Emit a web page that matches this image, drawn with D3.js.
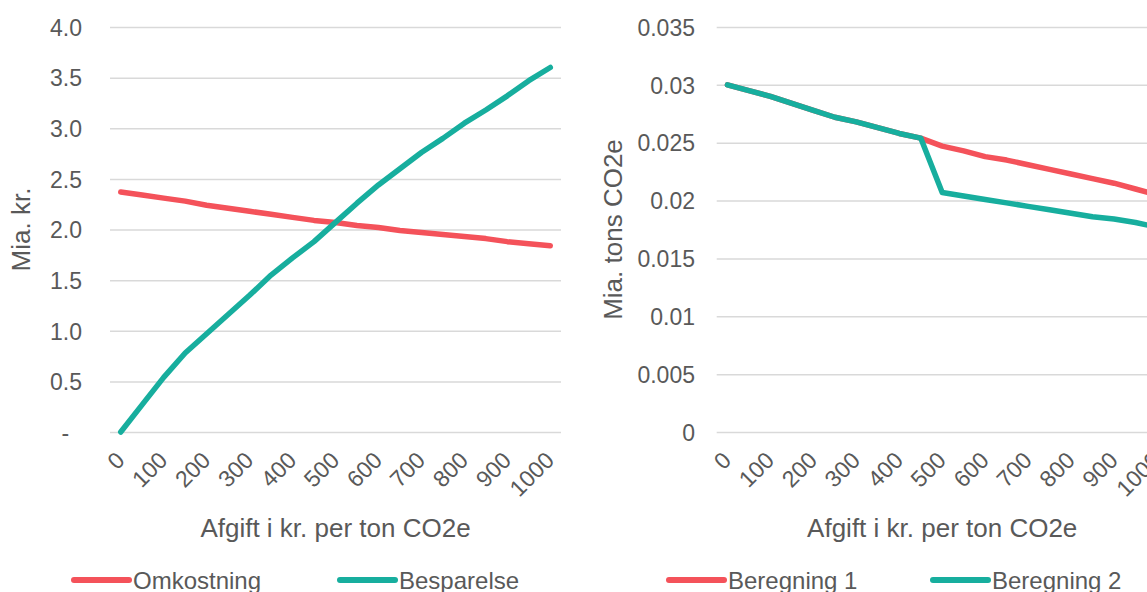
<!DOCTYPE html>
<html>
<head>
<meta charset="utf-8">
<script src="https://cdn.jsdelivr.net/npm/d3@7"></script>
<style>
	html, body { margin: 0; padding: 0; background: #fff; overflow: hidden; }
	svg { display: block; font-family: 'Liberation Sans', Arial, sans-serif; }
	.grid line { stroke: #d9d9d9; stroke-width: 1.5px; }
	.grid path { display: none; }
	.x-axis path { display: none; }
	text { fill: #595959; }
</style>
</head>
<body>
<script>
// kr. per ton CO2e, one point every 50, labels every 100
var afgift = [0, 50, 100, 150, 200, 250, 300, 350, 400, 450, 500, 550, 600, 650, 700, 750, 800, 850, 900, 950, 1000];
var afgiftLabels = [0, 100, 200, 300, 400, 500, 600, 700, 800, 900, 1000];

// left chart, Mia. kr.
var omkostning = [2.37, 2.34, 2.31, 2.28, 2.24, 2.21, 2.18, 2.15, 2.12, 2.09, 2.07, 2.04, 2.02, 1.99, 1.97, 1.95, 1.93, 1.91, 1.88, 1.86, 1.84];
var besparelse = [0, 0.27, 0.54, 0.78, 0.97, 1.16, 1.35, 1.55, 1.72, 1.88, 2.07, 2.26, 2.44, 2.60, 2.76, 2.90, 3.05, 3.18, 3.32, 3.47, 3.60];
var kronerTicks = [0, 0.5, 1, 1.5, 2, 2.5, 3, 3.5, 4];

// right chart, Mia. tons CO2e
var beregning1 = [0.0300, 0.0295, 0.0290, 0.0284, 0.0278, 0.0272, 0.0268, 0.0263, 0.0258, 0.0254, 0.0247, 0.0243, 0.0238, 0.0235, 0.0231, 0.0227, 0.0223, 0.0219, 0.0215, 0.0210, 0.0205];
var beregning2 = [0.0300, 0.0295, 0.0290, 0.0284, 0.0278, 0.0272, 0.0268, 0.0263, 0.0258, 0.0254, 0.0207, 0.0204, 0.0201, 0.0198, 0.0195, 0.0192, 0.0189, 0.0186, 0.0184, 0.0181, 0.0177];
var tonsTicks = [0, 0.005, 0.01, 0.015, 0.02, 0.025, 0.03, 0.035];

var red = '#f4525a';
var teal = '#17ae9e';

String.prototype.format = function(){
	var args = arguments;
	return this.replace(/\{(\d+)\}/g, function(m, i) { return args[i]; });
};

var svg = d3.select('body')
.append('svg')
.attr('width', 1147)
.attr('height', 592);

renderChart({
	left: 110, right: 561, top: 27, bottom: 432,
	yMax: 4, yTicks: kronerTicks,
	yFormat: function(d) { return d === 0 ? '-\u00a0\u00a0' : d3.format('.1f')(d); },
	labelRight: 82, yTitle: 'Mia. kr.', yTitleX: 21,
	series: [
		{name: 'Omkostning', values: omkostning, color: red, legendX: 74},
		{name: 'Besparelse', values: besparelse, color: teal, legendX: 340}
	]
});

renderChart({
	left: 716.7, right: 1167.7, top: 27, bottom: 432,
	yMax: 0.035, yTicks: tonsTicks,
	yFormat: function(d) { return String(+d.toFixed(3)); },
	labelRight: 695, yTitle: 'Mia. tons CO2e', yTitleX: 612.5,
	series: [
		{name: 'Beregning 1', values: beregning1, color: red, legendX: 669},
		{name: 'Beregning 2', values: beregning2, color: teal, legendX: 933}
	]
});

function renderChart(c){
	var g = svg.append('g');

	var x = d3.scalePoint()
	.domain(afgift)
	.range([c.left, c.right])
	.padding(0.5);

	var y = d3.scaleLinear()
	.domain([0, c.yMax])
	.range([c.bottom, c.top]);

	// gridlines
	g.append('g')
	.classed('grid', true)
	.attr('transform', 'translate({0},0)'.format(c.left))
	.call(d3.axisLeft(y).tickValues(c.yTicks).tickSize(-(c.right - c.left)).tickFormat(''));

	// y tick labels
	var yAxis = g.append('g')
	.attr('transform', 'translate({0},0)'.format(c.labelRight))
	.call(d3.axisLeft(y).tickValues(c.yTicks).tickSize(0).tickPadding(0).tickFormat(c.yFormat));
	yAxis.select('.domain').remove();
	yAxis.selectAll('text')
	.attr('x', 0)
	.attr('dy', '0.36em')
	.style('font-size', '23px')
	.style('white-space', 'pre')
	.attr('fill', '#595959');

	// x tick labels, rotated
	var xAxis = g.append('g')
	.classed('x-axis', true)
	.attr('transform', 'translate(0,{0})'.format(c.bottom))
	.call(d3.axisBottom(x).tickValues(afgiftLabels).tickSize(0).tickPadding(0));
	xAxis.selectAll('text')
	.attr('x', 0)
	.attr('y', 0)
	.attr('dy', '0.35em')
	.attr('transform', 'translate(-1,24) rotate(-45)')
	.style('text-anchor', 'end')
	.style('font-size', '23px')
	.attr('fill', '#595959');

	g.append('text')
	.attr('x', (c.left + c.right) / 2)
	.attr('y', 537)
	.attr('text-anchor', 'middle')
	.style('font-size', '26px')
	.text('Afgift i kr. per ton CO2e');

	g.append('text')
	.attr('transform', 'translate({0},{1}) rotate(-90)'.format(c.yTitleX, (c.top + c.bottom) / 2 + 0))
	.attr('dy', '0.36em')
	.attr('text-anchor', 'middle')
	.style('font-size', '26px')
	.text(c.yTitle);

	var line = d3.line()
	.x(function(d, i) { return x(afgift[i]); })
	.y(function(d) { return y(d); });

	for (var i = 0; i < c.series.length; i++) {
		var s = c.series[i];

		g.append('path')
		.datum(s.values)
		.attr('d', line)
		.attr('fill', 'none')
		.attr('stroke', s.color)
		.attr('stroke-width', 5.5)
		.attr('stroke-linejoin', 'round')
		.attr('stroke-linecap', 'round');

		// legend
		g.append('line')
		.attr('x1', s.legendX)
		.attr('x2', s.legendX + 55)
		.attr('y1', 580)
		.attr('y2', 580)
		.attr('stroke', s.color)
		.attr('stroke-width', 6)
		.attr('stroke-linecap', 'round');

		g.append('text')
		.attr('x', s.legendX + 59)
		.attr('y', 580)
		.attr('dy', '0.36em')
		.style('font-size', '24px')
		.text(s.name);
	};
}
</script>
</body>
</html>
